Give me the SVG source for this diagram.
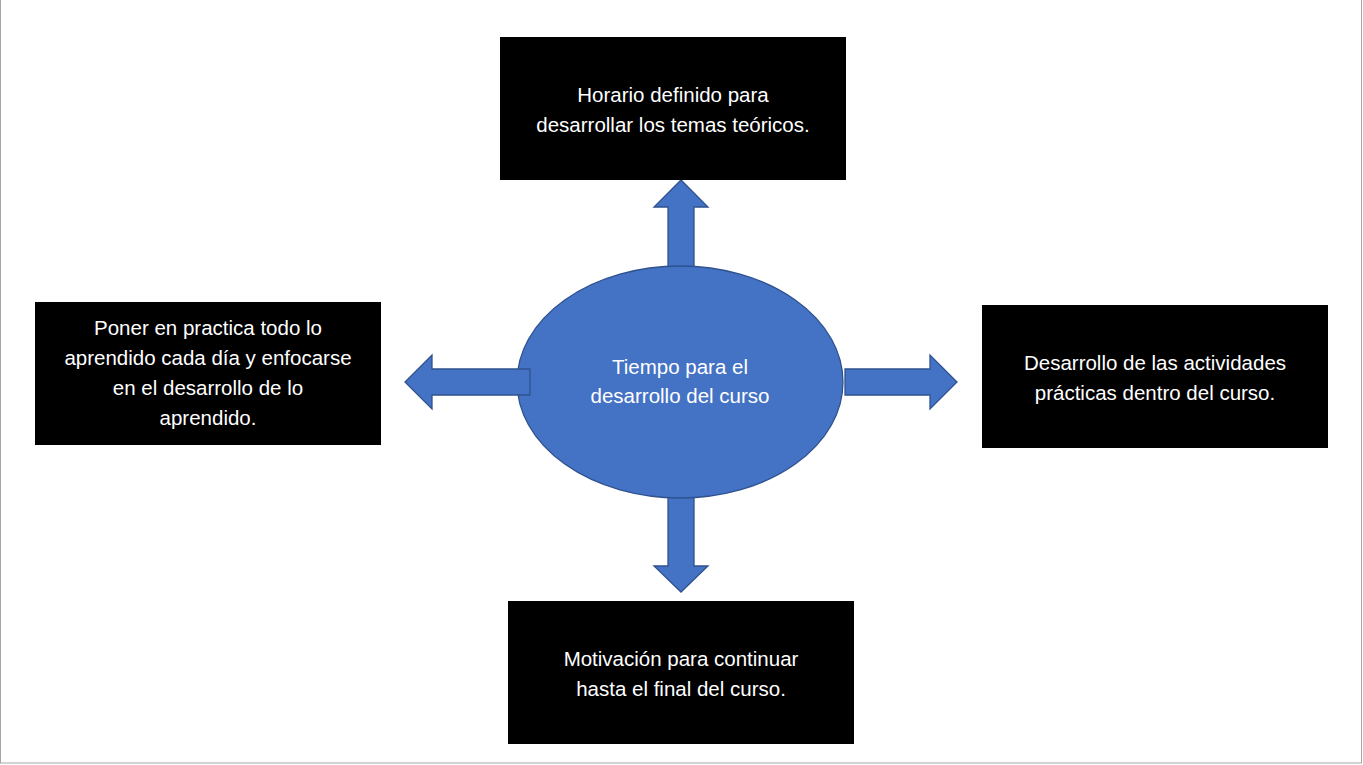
<svg xmlns="http://www.w3.org/2000/svg" width="1363" height="765" viewBox="0 0 1363 765">
<style>
.box{fill:#000}
.t{fill:#fff;font-family:"Liberation Sans",Arial,sans-serif;font-size:20.5px;text-anchor:middle}
.arr{fill:#4472C4;stroke:#2F528F;stroke-width:1.3}
</style>
<rect x="0" y="0" width="1363" height="765" fill="#fff"/>
<rect x="0.5" y="-1" width="1361" height="764" fill="none" stroke="#a6a6a6" stroke-width="1"/>
<g id="connectors">
<polygon class="arr" points="668,267 668,207 654,207 681,180 708,207 694,207 694,267"/>
<polygon class="arr" points="668,497 668,566 654,566 681,592 708,566 694,566 694,497"/>
<polygon class="arr" points="845,369 930,369 930,355 957,382 930,409 930,395 845,395"/>
</g>
<g id="center">
<ellipse cx="680" cy="382" rx="163" ry="116" fill="#4472C4" stroke="#2F528F" stroke-width="1.3"/>
<text class="t" x="680" y="374">Tiempo para el</text>
<text class="t" x="680" y="403">desarrollo del curso</text>
</g>
<g id="leftarrow">
<polygon class="arr" points="530,369 432,369 432,355 405,382 432,409 432,395 530,395"/>
</g>
<g id="top">
<rect class="box" x="500" y="37" width="346" height="143"/>
<text class="t" x="673" y="102">Horario definido para</text>
<text class="t" x="673" y="132">desarrollar los temas teóricos.</text>
</g>
<g id="left">
<rect class="box" x="35" y="302" width="346" height="143"/>
<text class="t" x="208" y="335">Poner en practica todo lo</text>
<text class="t" x="208" y="365">aprendido cada día y enfocarse</text>
<text class="t" x="208" y="395">en el desarrollo de lo</text>
<text class="t" x="208" y="425">aprendido.</text>
</g>
<g id="right">
<rect class="box" x="982" y="305" width="346" height="143"/>
<text class="t" x="1155" y="370">Desarrollo de las actividades</text>
<text class="t" x="1155" y="400">prácticas dentro del curso.</text>
</g>
<g id="bottom">
<rect class="box" x="508" y="601" width="346" height="143"/>
<text class="t" x="681" y="666">Motivación para continuar</text>
<text class="t" x="681" y="696">hasta el final del curso.</text>
</g>
</svg>
